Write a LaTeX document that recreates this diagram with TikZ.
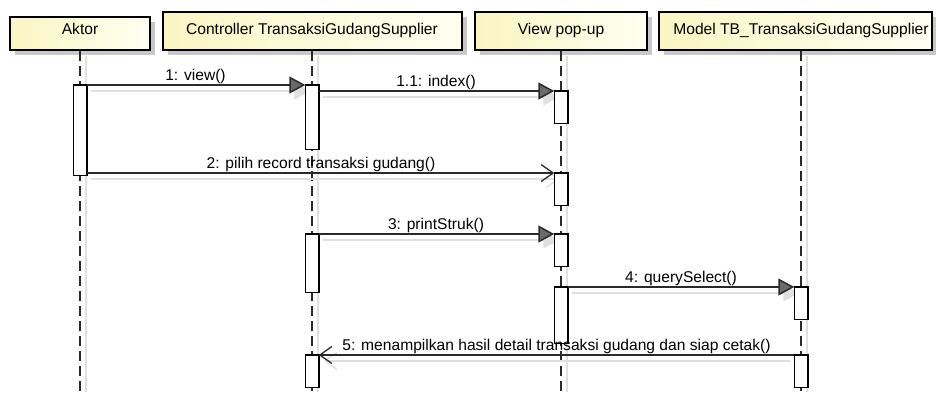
\documentclass[tikz,border=0pt]{standalone}
\usepackage{fontspec}
\setmainfont{Liberation Sans}
\usetikzlibrary{arrows.meta,shadows}
\definecolor{headleft}{HTML}{FAF5C2}
\definecolor{headright}{HTML}{FFFFF2}
\definecolor{shadowgray}{HTML}{C8C8C8}
\definecolor{faint}{HTML}{E0E0E0}
\definecolor{inkgray}{HTML}{2A2A2A}
\definecolor{tipgray}{HTML}{6A6A6A}
\begin{document}
\begin{tikzpicture}[x=1pt,y=-1pt,
  headbox/.style={rectangle, draw=black, line width=2pt, inner sep=0pt,
    left color=headleft, right color=headright,
    general shadow={fill=shadowgray, shadow xshift=5pt, shadow yshift=-5pt}},
  txt/.style={font=\fontsize{15.6}{18}\selectfont, anchor=base, inner sep=0pt},
  lifeline/.style={draw=inkgray, line width=1.5pt, dash pattern=on 10pt off 5pt},
  lifeshadow/.style={draw=faint, line width=1.5pt},
  actbar/.style={rectangle, draw=black, fill=white, line width=1.5pt,
    minimum width=12pt, inner sep=0pt, anchor=north},
  callmsg/.style={draw=inkgray, line width=1.5pt,
    -{Triangle[length=16pt,width=17pt,fill=tipgray]}},
  sendmsg/.style={draw=inkgray, line width=1.3pt,
    -{Straight Barb[length=12pt,width=17pt]}},
  callshadow/.style={draw=faint, line width=1.5pt,
    -{Triangle[length=16pt,width=17pt,fill=faint]}},
  sendshadow/.style={draw=faint, line width=1.3pt,
    -{Straight Barb[length=12pt,width=17pt]}}
]
\useasboundingbox (0,0) rectangle (936,392);

% lifeline heads
\node[headbox, minimum width=140pt, minimum height=33pt] (hA) at (80,33.5) {};
\node[headbox, minimum width=299pt, minimum height=38pt] (hC) at (312,31) {};
\node[headbox, minimum width=172pt, minimum height=38pt] (hV) at (561,31) {};
\node[headbox, minimum width=273pt, minimum height=38pt] (hM) at (795.5,31) {};
\node[txt] (tA) at (80,34.5) {Aktor};
\node[txt] (tC) at (312,34.5) {Controller TransaksiGudangSupplier};
\node[txt] (tV) at (561,34.5) {View pop-up};
\node[txt] (tM) at (801,34.5) {Model TB\_TransaksiGudangSupplier};

% lifeline ends
\coordinate (eA) at (80,392);
\coordinate (eC) at (312,392);
\coordinate (eV) at (561,392);
\coordinate (eM) at (801,392);

% lifeline shadows and dashed lifelines
\foreach \h/\t/\e in {hA/tA/eA, hC/tC/eC, hV/tV/eV, hM/tM/eM}{
  \draw[lifeshadow] ([shift={(6,5)}]\h.south -| \t) -- ([xshift=6pt]\e);
  \draw[lifeline] (\h.south -| \t) -- (\e);
}

% activation bars
\node[actbar, minimum height=89pt] (a1) at (80,85) {};
\node[actbar, minimum height=63pt] (c1) at (312,85) {};
\node[actbar, minimum height=31pt] (v1) at (561,91) {};
\node[actbar, minimum height=31pt] (v2) at (561,173) {};
\node[actbar, minimum height=57pt] (c2) at (312,234) {};
\node[actbar, minimum height=31pt] (v3) at (561,234) {};
\node[actbar, minimum height=55pt] (v4) at (561,287) {};
\node[actbar, minimum height=31pt] (m1) at (801,287) {};
\node[actbar, minimum height=31pt] (c3) at (312,355) {};
\node[actbar, minimum height=31pt] (m2) at (801,355) {};

% message shadows
\draw[callshadow] ([shift={(4,6)}]a1.north east) -- ([shift={(5,6)}]c1.north west);
\draw[callshadow] ([shift={(4,6)}]v1.north west -| c1.east) -- ([shift={(5,6)}]v1.north west);
\draw[sendshadow] ([shift={(4,6)}]v2.north west -| a1.east) -- ([shift={(5,6)}]v2.north west);
\draw[callshadow] ([shift={(4,6)}]c2.north east) -- ([shift={(5,6)}]v3.north west);
\draw[callshadow] ([shift={(4,6)}]v4.north east) -- ([shift={(5,6)}]m1.north west);
\draw[sendshadow] ([shift={(-4,6)}]m2.north west) -- ([shift={(5,6)}]c3.north east);

% bars are redrawn over the shadow lines
\foreach \b in {a1,c1,v1,v2,c2,v3,v4,m1,c3,m2}{
  \draw[draw=black, fill=white, line width=1.5pt] (\b.north west) rectangle (\b.south east);
}

% messages
\draw[callmsg] (a1.north east) -- (c1.north west);
\draw[callmsg] (v1.north west -| c1.east) -- (v1.north west);
\draw[sendmsg] (v2.north west -| a1.east) -- (v2.north west);
\draw[callmsg] (c2.north east) -- (v3.north west);
\draw[callmsg] (v4.north east) -- (m1.north west);
\draw[sendmsg] (m2.north west) -- (c3.north east);

% message labels
\node[txt] (l1) at (195.5,80) {1: view()};
\node[txt] (l11) at (436,86) {1.1: index()};
\node[txt] (l2) at (321,168) {2: pilih record transaksi gudang()};
\node[txt] (l3) at (436,229) {3: printStruk()};
\node[txt] (l4) at (681,282) {4: querySelect()};
\node[txt] (l5) at (556.5,350) {5: menampilkan hasil detail transaksi gudang dan siap cetak()};
\end{tikzpicture}
\end{document}
